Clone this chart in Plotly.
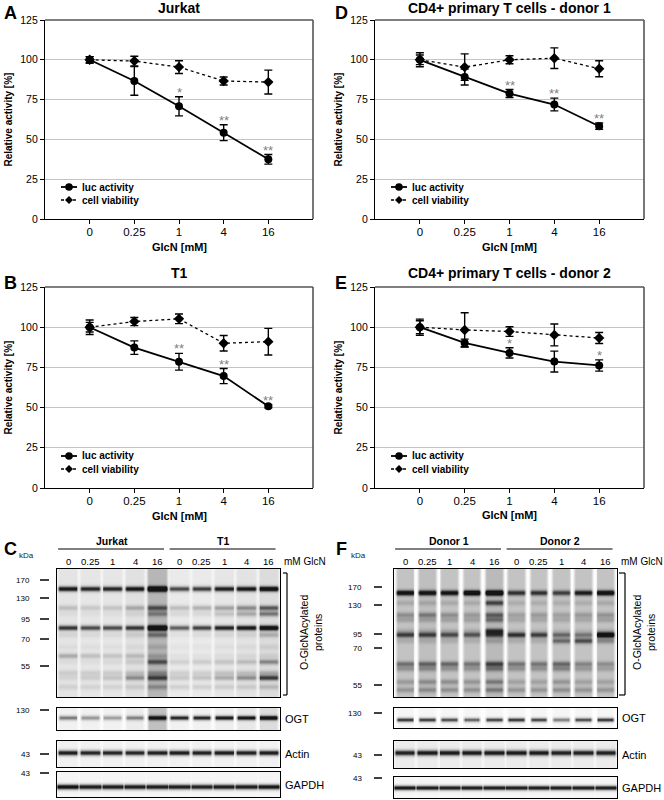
import numpy as np
import plotly.graph_objects as go

W, H = 664, 800
FONT = "Liberation Sans, Arial, sans-serif"

# ---------------- data: line charts ----------------
doses = ["0", "0.25", "1", "4", "16"]

jurkat_luc = [100, 86.7, 70.8, 54.2, 37.5]
jurkat_luc_err = [2, 9, 6, 5, 3]
jurkat_via = [100, 99.2, 95.4, 86.7, 86.0]
jurkat_via_err = [2, 3, 4, 2.5, 7.5]
jurkat_sig = ["", "", "*", "**", "**"]

t1_luc = [100, 87.3, 78.5, 69.6, 50.8]
t1_luc_err = [4.5, 4.2, 5.2, 4.7, 1.0]
t1_via = [100, 103.5, 105.2, 90.0, 91.0]
t1_via_err = [3, 2.5, 3, 4.8, 8.3]
t1_sig = ["", "", "**", "**", "**"]

donor1_luc = [100, 89.2, 78.8, 71.9, 58.3]
donor1_luc_err = [4.4, 5, 2.5, 4, 2]
donor1_via = [100, 95.4, 100.0, 101.0, 94.4]
donor1_via_err = [3, 8.3, 2.5, 6.5, 5]
donor1_sig = ["", "", "**", "**", "**"]

donor2_luc = [100, 90.2, 84.0, 78.6, 76.2]
donor2_luc_err = [5, 2.4, 3.2, 6.5, 3.5]
donor2_via = [100, 98.3, 97.3, 95.2, 93.3]
donor2_via_err = [4, 10.7, 3, 6.8, 3.4]
donor2_sig = ["", "", "*", "", "*"]

y_ticks = [0, 25, 50, 75, 100, 125]
series_names = ["luc activity", "cell viability"]

# ---------------- data: blots (band intensities per lane) ----------------
lane_labels = ["0", "0.25", "1", "4", "16", "0", "0.25", "1", "4", "16"]

C_main_bands = [20, 39, 45, 59, 66, 78, 87, 93, 104, 109, 118]
C_main_int = [
    [0.85, 0.78, 0.78, 0.85, 1.00, 0.68, 0.72, 0.82, 0.85, 0.95],
    [0.22, 0.18, 0.20, 0.30, 0.40, 0.25, 0.30, 0.35, 0.42, 0.55],
    [0.05, 0.05, 0.05, 0.10, 0.25, 0.10, 0.10, 0.20, 0.30, 0.45],
    [0.72, 0.65, 0.65, 0.70, 0.95, 0.60, 0.70, 0.80, 0.85, 0.95],
    [0.10, 0.08, 0.08, 0.15, 0.30, 0.05, 0.08, 0.10, 0.12, 0.25],
    [0.05, 0.05, 0.05, 0.06, 0.10, 0.04, 0.04, 0.05, 0.06, 0.10],
    [0.30, 0.22, 0.20, 0.22, 0.15, 0.05, 0.05, 0.06, 0.08, 0.10],
    [0.05, 0.05, 0.08, 0.15, 0.40, 0.15, 0.18, 0.20, 0.22, 0.40],
    [0.15, 0.15, 0.15, 0.20, 0.20, 0.15, 0.15, 0.20, 0.20, 0.25],
    [0.10, 0.15, 0.20, 0.40, 0.45, 0.20, 0.22, 0.30, 0.40, 0.65],
    [0.12, 0.12, 0.12, 0.15, 0.20, 0.15, 0.15, 0.15, 0.15, 0.20],
]
C_main_bg = [0.03, 0.02, 0.02, 0.05, 0.28, 0.0, 0.0, 0.02, 0.04, 0.08]

C_ogt_bands = [10]
C_ogt_int = [[0.55, 0.45, 0.42, 0.50, 0.72, 0.85, 0.85, 0.90, 0.90, 0.95]]
C_ogt_bg = [0.03, 0.03, 0.03, 0.06, 0.30, 0.03, 0.03, 0.05, 0.08, 0.15]

C_actin_bands = [12]
C_actin_int = [[0.90, 0.85, 0.85, 0.85, 0.88, 0.90, 0.88, 0.90, 0.88, 0.90]]
C_actin_bg = [0.03] * 10

C_gapdh_bands = [15]
C_gapdh_int = [[1.00, 0.92, 0.92, 0.92, 0.92, 0.92, 0.90, 0.92, 0.92, 0.95]]
C_gapdh_bg = [0.02] * 10

F_main_bands = [24, 34, 46, 51, 62, 66, 72, 95, 100, 113, 121]
F_main_int = [
    [0.75, 0.72, 0.72, 0.90, 0.95, 0.55, 0.55, 0.50, 0.65, 0.80],
    [0.12, 0.12, 0.12, 0.12, 0.45, 0.10, 0.10, 0.10, 0.10, 0.12],
    [0.22, 0.28, 0.22, 0.18, 0.35, 0.15, 0.18, 0.15, 0.18, 0.20],
    [0.15, 0.15, 0.15, 0.15, 0.30, 0.12, 0.12, 0.12, 0.12, 0.15],
    [0.10, 0.10, 0.10, 0.10, 0.50, 0.05, 0.05, 0.05, 0.05, 0.10],
    [0.50, 0.48, 0.45, 0.42, 0.45, 0.55, 0.50, 0.35, 0.30, 0.85],
    [0.10, 0.10, 0.10, 0.10, 0.15, 0.10, 0.10, 0.35, 0.45, 0.25],
    [0.32, 0.35, 0.35, 0.30, 0.45, 0.30, 0.30, 0.35, 0.25, 0.22],
    [0.20, 0.22, 0.20, 0.20, 0.28, 0.20, 0.20, 0.25, 0.18, 0.15],
    [0.18, 0.22, 0.22, 0.20, 0.26, 0.15, 0.15, 0.20, 0.15, 0.15],
    [0.20, 0.22, 0.22, 0.22, 0.26, 0.20, 0.20, 0.22, 0.20, 0.20],
]
F_main_bg = [0.20, 0.22, 0.20, 0.20, 0.24, 0.20, 0.20, 0.20, 0.20, 0.20]

F_ogt_bands = [12]
F_ogt_int = [[0.80, 0.78, 0.72, 0.65, 0.75, 0.80, 0.75, 0.55, 0.72, 0.80]]
F_ogt_bg = [0.02] * 10

F_actin_bands = [12]
F_actin_int = [[0.85, 0.88, 0.88, 0.88, 0.88, 0.88, 0.88, 0.85, 0.85, 0.85]]
F_actin_bg = [0.05] * 10

F_gapdh_bands = [11]
F_gapdh_int = [[0.95, 0.92, 0.92, 0.92, 0.92, 0.92, 0.92, 0.92, 0.92, 0.92]]
F_gapdh_bg = [0.02] * 10

C_groups = ["Jurkat", "T1"]
F_groups = ["Donor 1", "Donor 2"]
C_markers = ["170", "130", "95", "70", "55"]
F_markers = ["170", "130", "95", "70", "55"]


# ---------------- layout helpers ----------------
def px_x(p):
    return p / W


def px_y(p):
    return 1 - p / H


fig = go.Figure()
annotations = []
shapes = []
layout = {}

line_panels = [
    dict(letter="A", title="Jurkat", luc=jurkat_luc, luc_err=jurkat_luc_err, via=jurkat_via,
         via_err=jurkat_via_err, sig=jurkat_sig, xd=(45, 313), yd=(20, 219), lx=(2, 1),
         tt=7.5, xt=247, ytx=8),
    dict(letter="B", title="T1", luc=t1_luc, luc_err=t1_luc_err, via=t1_via,
         via_err=t1_via_err, sig=t1_sig, xd=(45, 313), yd=(287, 488), lx=(2, 271),
         tt=273, xt=516, ytx=8),
    dict(letter="D", title="CD4+ primary T cells - donor 1", luc=donor1_luc, luc_err=donor1_luc_err,
         via=donor1_via, via_err=donor1_via_err, sig=donor1_sig, xd=(375, 644), yd=(20, 219),
         lx=(333, 1), tt=7.5, xt=247, ytx=338),
    dict(letter="E", title="CD4+ primary T cells - donor 2", luc=donor2_luc, luc_err=donor2_luc_err,
         via=donor2_via, via_err=donor2_via_err, sig=donor2_sig, xd=(375, 644), yd=(287, 488),
         lx=(333, 271), tt=273, xt=515, ytx=338),
]

for i, p in enumerate(line_panels, start=1):
    sfx = "" if i == 1 else str(i)
    xa, ya = "x" + sfx, "y" + sfx
    fig.add_trace(go.Scatter(
        x=doses, y=p["via"], xaxis=xa, yaxis=ya, name=series_names[1], showlegend=False,
        mode="lines+markers", line=dict(color="black", width=1.3, dash="dot"),
        marker=dict(symbol="diamond", size=8, color="black"),
        error_y=dict(type="data", array=p["via_err"], visible=True, color="black",
                     thickness=1.4, width=4),
        hoverinfo="skip"))
    fig.add_trace(go.Scatter(
        x=doses, y=p["luc"], xaxis=xa, yaxis=ya, name=series_names[0], showlegend=False,
        mode="lines+markers", line=dict(color="black", width=1.8),
        marker=dict(symbol="circle", size=8, color="black"),
        error_y=dict(type="data", array=p["luc_err"], visible=True, color="black",
                     thickness=1.4, width=4),
        hoverinfo="skip"))
    x0, x1 = p["xd"]
    y0, y1 = p["yd"]
    layout["xaxis" + sfx] = dict(
        domain=[px_x(x0), px_x(x1)], anchor=ya, type="category", range=[-1, 5],
        showline=True, linecolor="black", linewidth=1.3, ticks="outside", ticklen=4,
        tickcolor="black", tickwidth=1.2, showgrid=False, zeroline=False,
        ticklabelstandoff=-2,
        tickfont=dict(size=11.5, family=FONT, color="black"), fixedrange=True)
    layout["yaxis" + sfx] = dict(
        domain=[px_y(y1), px_y(y0)], anchor=xa, range=[0, 125], tickvals=y_ticks,
        showline=True, linecolor="black", linewidth=1.3, ticks="outside", ticklen=4,
        tickcolor="black", tickwidth=1.2, showgrid=True, gridcolor="#c4c4c4", gridwidth=1,
        zeroline=False, tickfont=dict(size=10.5, family=FONT, color="black"), fixedrange=True)
    shapes.append(dict(type="line", xref=xa + " domain", yref=ya + " domain", x0=0, x1=1, y0=1, y1=1,
                       line=dict(color="#555555", width=1.6), layer="above"))
    shapes.append(dict(type="line", xref=xa + " domain", yref=ya + " domain", x0=1, x1=1, y0=0, y1=1,
                       line=dict(color="#555555", width=1.6), layer="above"))
    for k, (v, e, s) in enumerate(zip(p["luc"], p["luc_err"], p["sig"])):
        if s:
            annotations.append(dict(x=k, y=v + e, xref=xa, yref=ya, text=s, showarrow=False,
                                    yanchor="bottom", yshift=-5,
                                    font=dict(size=13, family=FONT, color="#808080")))
    # legend drawn in paper space
    lx0, lx1, mxc = x0 + 16, x0 + 32, x0 + 24
    ly_luc, ly_via = y1 - 32, y1 - 19
    shapes.append(dict(type="line", xref="paper", yref="paper", x0=px_x(lx0), x1=px_x(lx1),
                       y0=px_y(ly_luc), y1=px_y(ly_luc), line=dict(color="black", width=1.8)))
    shapes.append(dict(type="circle", xref="paper", yref="paper", x0=px_x(mxc - 3.8),
                       x1=px_x(mxc + 3.8), y0=px_y(ly_luc + 3.8), y1=px_y(ly_luc - 3.8),
                       fillcolor="black", line=dict(color="black", width=0)))
    shapes.append(dict(type="line", xref="paper", yref="paper", x0=px_x(lx0), x1=px_x(lx1),
                       y0=px_y(ly_via), y1=px_y(ly_via),
                       line=dict(color="black", width=1.3, dash="dot")))
    shapes.append(dict(type="path", xref="paper", yref="paper",
                       path="M {a},{b} L {c},{d} L {a},{e} L {f},{d} Z".format(
                           a=px_x(mxc), b=px_y(ly_via - 4), c=px_x(mxc + 4), d=px_y(ly_via),
                           e=px_y(ly_via + 4), f=px_x(mxc - 4)),
                       fillcolor="black", line=dict(color="black", width=0)))
    for nm, yy in zip(series_names, (ly_luc, ly_via)):
        annotations.append(dict(x=px_x(x0 + 35), y=px_y(yy), xref="paper", yref="paper",
                                xanchor="left", text="<b>" + nm + "</b>", showarrow=False,
                                font=dict(size=10, family=FONT, color="black")))
    cx = (x0 + x1) / 2
    annotations.append(dict(x=px_x(cx), y=px_y(p["tt"]), xref="paper", yref="paper",
                            text="<b>" + p["title"] + "</b>", showarrow=False,
                            font=dict(size=14, family=FONT, color="black")))
    annotations.append(dict(x=px_x(cx), y=px_y(p["xt"]), xref="paper", yref="paper",
                            text="<b>GlcN [mM]</b>", showarrow=False,
                            font=dict(size=11, family=FONT, color="black")))
    annotations.append(dict(x=px_x(p["ytx"]), y=px_y((y0 + y1) / 2), xref="paper", yref="paper",
                            text="<b>Relative activity [%]</b>", showarrow=False, textangle=-90,
                            font=dict(size=10, family=FONT, color="black")))
    annotations.append(dict(x=px_x(p["lx"][0]), y=px_y(p["lx"][1]), xref="paper", yref="paper",
                            xanchor="left", yanchor="top", text="<b>" + p["letter"] + "</b>",
                            showarrow=False, font=dict(size=18, family=FONT, color="black")))


# ---------------- blots ----------------
def blot_image(hpx, pos, inten, bg, width, lane_frac, base, gap):
    cols = 24
    nl = len(bg)
    xs = (np.arange(nl * cols) + 0.5) / cols
    ys = np.arange(hpx) + 0.5
    lane = np.floor(xs).astype(int)
    d = np.abs(xs - lane - 0.5)
    half = lane_frac / 2
    mask = np.clip((half + 0.06 - d) / 0.12, 0, 1)
    inten = np.asarray(inten, dtype=float)
    prof = np.zeros((hpx, nl * cols))
    for b, pp in enumerate(pos):
        g = np.exp(-((ys - pp) / width) ** 2)
        prof += np.outer(g, inten[b][lane])
    lanev = np.asarray(bg)[lane][None, :] + prof
    z = base - gap * (1 - mask)[None, :] + mask[None, :] * lanev
    return xs, ys, np.clip(z, 0, 1)


gray = [[0, "#fdfdfd"], [0.12, "#e6e6e6"], [0.3, "#c8c8c8"], [0.5, "#9a9a9a"],
        [0.7, "#5e5e5e"], [0.88, "#2a2a2a"], [1, "#141414"]]

blots = [
    dict(ax=5, xd=(57, 280), yd=(569, 697), pos=C_main_bands, inten=C_main_int, bg=C_main_bg,
         w=2.8, lf=0.88, base=0.1, gap=0.06),
    dict(ax=6, xd=(57, 280), yd=(708, 730), pos=C_ogt_bands, inten=C_ogt_int, bg=C_ogt_bg,
         w=2.4, lf=0.82, base=0.03, gap=0.02),
    dict(ax=7, xd=(57, 280), yd=(741, 767), pos=C_actin_bands, inten=C_actin_int, bg=C_actin_bg,
         w=2.8, lf=0.9, base=0.03, gap=0.02),
    dict(ax=8, xd=(57, 280), yd=(772, 797), pos=C_gapdh_bands, inten=C_gapdh_int, bg=C_gapdh_bg,
         w=2.8, lf=1.0, base=0.02, gap=0.0),
    dict(ax=9, xd=(394, 617), yd=(569, 697), pos=F_main_bands, inten=F_main_int, bg=F_main_bg,
         w=2.8, lf=0.8, base=0.12, gap=0.12),
    dict(ax=10, xd=(394, 617), yd=(708, 728), pos=F_ogt_bands, inten=F_ogt_int, bg=F_ogt_bg,
         w=2.2, lf=0.75, base=0.02, gap=0.02),
    dict(ax=11, xd=(394, 617), yd=(741, 768), pos=F_actin_bands, inten=F_actin_int, bg=F_actin_bg,
         w=3.0, lf=0.92, base=0.04, gap=0.02),
    dict(ax=12, xd=(394, 617), yd=(777, 798), pos=F_gapdh_bands, inten=F_gapdh_int, bg=F_gapdh_bg,
         w=2.5, lf=1.0, base=0.02, gap=0.0),
]

for b in blots:
    hpx = b["yd"][1] - b["yd"][0]
    xs, ys, z = blot_image(hpx, b["pos"], b["inten"], b["bg"], b["w"], b["lf"], b["base"], b["gap"])
    k = str(b["ax"])
    fig.add_trace(go.Heatmap(x=xs, y=ys, z=z, colorscale=gray, zmin=0, zmax=1, showscale=False,
                             xaxis="x" + k, yaxis="y" + k, hoverinfo="skip"))
    layout["xaxis" + k] = dict(domain=[px_x(b["xd"][0]), px_x(b["xd"][1])], anchor="y" + k,
                               range=[0, 10], showticklabels=False, ticks="", showgrid=False,
                               zeroline=False, showline=True, mirror=True, linecolor="black",
                               linewidth=1.2, fixedrange=True)
    layout["yaxis" + k] = dict(domain=[px_y(b["yd"][1]), px_y(b["yd"][0])], anchor="x" + k,
                               range=[hpx, 0], showticklabels=False, ticks="", showgrid=False,
                               zeroline=False, showline=True, mirror=True, linecolor="black",
                               linewidth=1.2, fixedrange=True)

blot_sides = [
    dict(letter="C", lx=2, main=5, groups=C_groups, markers=C_markers,
         marker_pos=[11, 29, 50, 70, 97], mlab_x=32, dash=(40, 49), kda_x=26,
         unit_x=282, brk=(283, 287), ptxt_x=311,
         small=[(6, "OGT", "130", 2), (7, "Actin", "43", 13), (8, "GAPDH", "43", 1)],
         lab_x=283),
    dict(letter="F", lx=334, main=9, groups=F_groups, markers=F_markers,
         marker_pos=[18, 36, 65, 79, 116], mlab_x=364, dash=(374, 382), kda_x=359,
         unit_x=619, brk=(619, 625), ptxt_x=644,
         small=[(10, "OGT", "130", 5), (11, "Actin", "43", 14), (12, "GAPDH", "43", 1)],
         lab_x=620),
]

for s in blot_sides:
    mk = str(s["main"])
    annotations.append(dict(x=px_x(s["lx"]), y=px_y(537), xref="paper", yref="paper",
                            xanchor="left", yanchor="top", text="<b>" + s["letter"] + "</b>",
                            showarrow=False, font=dict(size=18, family=FONT, color="black")))
    for li, lab in enumerate(lane_labels):
        annotations.append(dict(x=li + 0.5, y=px_y(561), xref="x" + mk, yref="paper", text=lab,
                                showarrow=False, font=dict(size=9.5, family=FONT, color="black")))
    for gi, g in enumerate(s["groups"]):
        annotations.append(dict(x=gi * 5 + 2.45, y=px_y(541), xref="x" + mk, yref="paper",
                                text="<b>" + g + "</b>", showarrow=False,
                                font=dict(size=10.5, family=FONT, color="black")))
        shapes.append(dict(type="line", xref="x" + mk, yref="paper", x0=gi * 5 + 0.05,
                           x1=gi * 5 + 4.8, y0=px_y(549), y1=px_y(549),
                           line=dict(color="black", width=1.2)))
    annotations.append(dict(x=px_x(s["unit_x"]), y=px_y(561), xref="paper", yref="paper",
                            xanchor="left", text="mM GlcN", showarrow=False,
                            font=dict(size=10, family=FONT, color="black")))
    annotations.append(dict(x=px_x(s["kda_x"]), y=px_y(555), xref="paper", yref="paper",
                            text="kDa", showarrow=False,
                            font=dict(size=8, family=FONT, color="#222222")))
    for m, yp in zip(s["markers"], s["marker_pos"]):
        annotations.append(dict(x=px_x(s["mlab_x"]), y=yp, xref="paper", yref="y" + mk,
                                xanchor="right", text=m, showarrow=False,
                                font=dict(size=8, family=FONT, color="black")))
        shapes.append(dict(type="line", xref="paper", yref="y" + mk, x0=px_x(s["dash"][0]),
                           x1=px_x(s["dash"][1]), y0=yp, y1=yp,
                           line=dict(color="black", width=1.5)))
    bx0, bx1 = s["brk"]
    for yy in (573, 695):
        shapes.append(dict(type="line", xref="paper", yref="paper", x0=px_x(bx0), x1=px_x(bx1),
                           y0=px_y(yy), y1=px_y(yy), line=dict(color="black", width=1.2)))
    shapes.append(dict(type="line", xref="paper", yref="paper", x0=px_x(bx1), x1=px_x(bx1),
                       y0=px_y(573), y1=px_y(695), line=dict(color="black", width=1.2)))
    annotations.append(dict(x=px_x(s["ptxt_x"]), y=px_y(633), xref="paper", yref="paper",
                            text="O-GlcNAcylated<br>proteins", showarrow=False, textangle=-90,
                            font=dict(size=10.5, family=FONT, color="black")))
    for ax, name, mw, mpos in s["small"]:
        k = str(ax)
        annotations.append(dict(x=px_x(s["lab_x"]), y=0.5, xref="paper", yref="y" + k + " domain",
                                xanchor="left", text=name, showarrow=False,
                                font=dict(size=11, family=FONT, color="black")))
        annotations.append(dict(x=px_x(s["mlab_x"]), y=mpos, xref="paper", yref="y" + k,
                                xanchor="right", text=mw, showarrow=False,
                                font=dict(size=8, family=FONT, color="black")))
        shapes.append(dict(type="line", xref="paper", yref="y" + k, x0=px_x(s["dash"][0]),
                           x1=px_x(s["dash"][1]), y0=mpos, y1=mpos,
                           line=dict(color="black", width=1.5)))

for a in annotations:
    a.setdefault("xanchor", "center")
    a.setdefault("yanchor", "middle")

fig.update_layout(
    width=W, height=H, margin=dict(l=0, r=0, t=0, b=0, autoexpand=False), paper_bgcolor="white",
    plot_bgcolor="white", font=dict(family=FONT, color="black"), showlegend=False,
    annotations=annotations, shapes=shapes, **layout)

fig.write_html("out.html", config={"displayModeBar": False},
               post_script="document.body.style.margin='0';")
